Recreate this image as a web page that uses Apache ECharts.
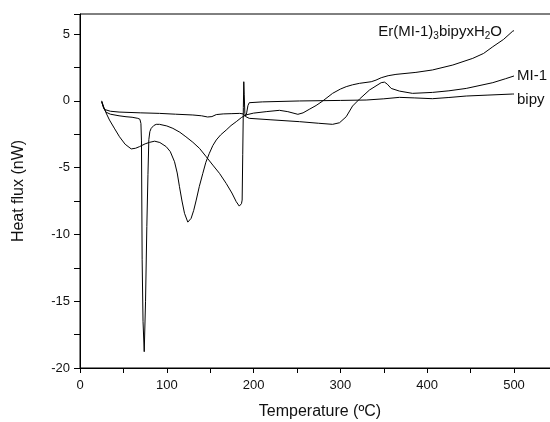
<!DOCTYPE html>
<html>
<head>
<meta charset="utf-8">
<script src="https://cdn.jsdelivr.net/npm/echarts@6/dist/echarts.min.js"></script>
<style>html,body{margin:0;padding:0;background:#fff;}#c{width:550px;height:422px;}</style>
</head>
<body>
<div id="c"></div>
<script>
// Temperature (°C) / heat flux (nW) pairs
const erData = [[25,0],[27,-0.4],[30,-0.9],[34,-1.44],[40,-2.1],[45.5,-2.69],[52,-3.25],[59,-3.6],[64,-3.55],[68.5,-3.43],[75,-3.22],[80,-3.11],[86,-3.02],[92,-3.12],[99.3,-3.43],[104,-3.8],[108.9,-4.56],[112,-5.4],[114.6,-6.43],[117.5,-7.5],[120.4,-8.42],[124.2,-9.08],[128,-8.8],[131,-8.2],[133.9,-7.43],[137.5,-6.4],[141.5,-5.43],[145,-4.6],[149,-3.93],[153,-3.35],[157,-2.93],[162,-2.55],[168.4,-2.19],[174,-1.85],[180,-1.56],[186,-1.25],[191.5,-1.05],[200,-0.92],[214.5,-0.81],[229.8,-0.71],[239.4,-0.81],[251,-1.01],[257,-0.9],[264,-0.64],[272,-0.35],[279.7,-0.01],[291,0.56],[300,0.88],[306.7,1.06],[314,1.2],[322,1.31],[335.5,1.43],[341,1.55],[347,1.73],[355,1.88],[364,1.98],[387,2.13],[406,2.31],[429.5,2.68],[452.5,3.18],[465,3.55],[475.6,4.05],[488,4.6],[498.6,5.22],[500,5.25]];
const mi1Data = [[25,-0.1],[28,-0.64],[35,-0.78],[45,-0.84],[53,-0.86],[70,-0.9],[91.6,-0.94],[110,-1.0],[130,-1.06],[140,-1.12],[147,-1.21],[152,-1.18],[157,-1.03],[165,-0.98],[175,-0.96],[184,-0.94],[188,-0.98],[191.4,-1.2],[195,-1.31],[220,-1.42],[252.9,-1.56],[275,-1.68],[291,-1.76],[299,-1.64],[306.7,-1.19],[314,-0.39],[322,0.13],[333.5,0.81],[347,1.36],[350.8,1.4],[354,1.25],[358.5,0.93],[368,0.73],[383,0.56],[406,0.63],[425,0.75],[445,0.93],[475.6,1.36],[490,1.65],[500,1.86]];
const bipyData = [[25,-0.05],[27,-0.5],[30,-0.85],[35,-1.0],[45,-1.12],[53,-1.19],[60,-1.23],[66.6,-1.31],[69,-1.38],[70.2,-1.7],[70.8,-3],[71.6,-11.9],[72.6,-16.5],[74,-18.78],[75.5,-15],[77,-9.4],[78.3,-5.5],[79.3,-2.9],[80.5,-2.3],[82,-2.06],[85,-1.85],[87.8,-1.76],[91.6,-1.76],[100,-1.88],[107,-2.06],[115,-2.35],[122,-2.69],[130,-3.1],[137.7,-3.56],[145,-4.15],[153,-4.81],[160.7,-5.43],[168.4,-6.18],[175,-6.9],[180,-7.55],[183.5,-7.88],[185,-7.93],[186,-7.7],[186.8,-7.43],[187.5,-4],[188.2,-0.5],[188.7,1.43],[189.2,0.5],[189.9,-0.94],[190.8,-1.15],[192,-0.9],[193.5,-0.35],[195,-0.14],[210,-0.08],[253,-0.01],[300,0.03],[329.7,0.06],[350,0.15],[368,0.26],[385,0.22],[406,0.16],[425,0.25],[445,0.36],[470,0.43],[498.6,0.51],[500,0.51]];

const xTickLabels = [0, 100, 200, 300, 400, 500];
const yTickLabels = [-20, -15, -10, -5, 0, 5];
const seriesNames = ['Er(MI-1)3bipyxH2O', 'MI-1', 'bipy'];

const FONT = "'Liberation Sans', Arial, Helvetica, sans-serif";
const chart = echarts.init(document.getElementById('c'), null, {renderer: 'canvas'});

function lineSeries(name, data, label) {
  return {
    name: name, type: 'line', data: data, symbol: 'none', smooth: false,
    lineStyle: {color: '#000', width: 1}, animation: false,
    endLabel: Object.assign({show: true, color: '#111', fontFamily: FONT, fontSize: 15}, label)
  };
}

chart.setOption({
  animation: false,
  backgroundColor: '#fff',
  grid: {left: 80, width: 480, top: 14, bottom: 54, show: true, borderColor: '#000', borderWidth: 1,
    outerBoundsMode: 'none', containLabel: false},
  xAxis: {
    type: 'value', min: 0, max: 553, interval: 50,
    name: 'Temperature (ºC)', nameLocation: 'middle', nameGap: 36,
    nameTextStyle: {fontFamily: FONT, fontSize: 16, color: '#111'},
    axisLine: {onZero: false, lineStyle: {color: '#000', width: 1}},
    axisTick: {inside: false, length: 5, lineStyle: {color: '#000'}},
    axisLabel: {fontFamily: FONT, fontSize: 13, color: '#111', margin: 11,
      formatter: v => xTickLabels.indexOf(v) >= 0 ? String(v) : ''},
    splitLine: {show: false}
  },
  yAxis: {
    type: 'value', min: -20, max: 6.5, interval: 2.5,
    name: 'Heat flux (nW)', nameLocation: 'middle', nameGap: 53, nameRotate: 90,
    nameTextStyle: {fontFamily: FONT, fontSize: 16, color: '#111'},
    axisLine: {onZero: false, lineStyle: {color: '#000', width: 1}},
    axisTick: {inside: false, length: 6, lineStyle: {color: '#000'}},
    axisLabel: {fontFamily: FONT, fontSize: 13, color: '#111', margin: 10,
      formatter: v => yTickLabels.indexOf(v) >= 0 ? String(v) : ''},
    splitLine: {show: false}
  },
  series: [
    lineSeries(seriesNames[0], erData, {
      formatter: 'Er(MI-1){s|3}bipyxH{s|2}O', align: 'right', distance: 0, offset: [-12, 1],
      rich: {s: {fontSize: 10, fontFamily: FONT, color: '#111', padding: [9, 0, 0, 0]}}
    }),
    lineSeries(seriesNames[1], mi1Data, {formatter: seriesNames[1], distance: 3, offset: [0, 0]}),
    lineSeries(seriesNames[2], bipyData, {formatter: seriesNames[2], distance: 3, offset: [0, 6]})
  ]
});
</script>
</body>
</html>
